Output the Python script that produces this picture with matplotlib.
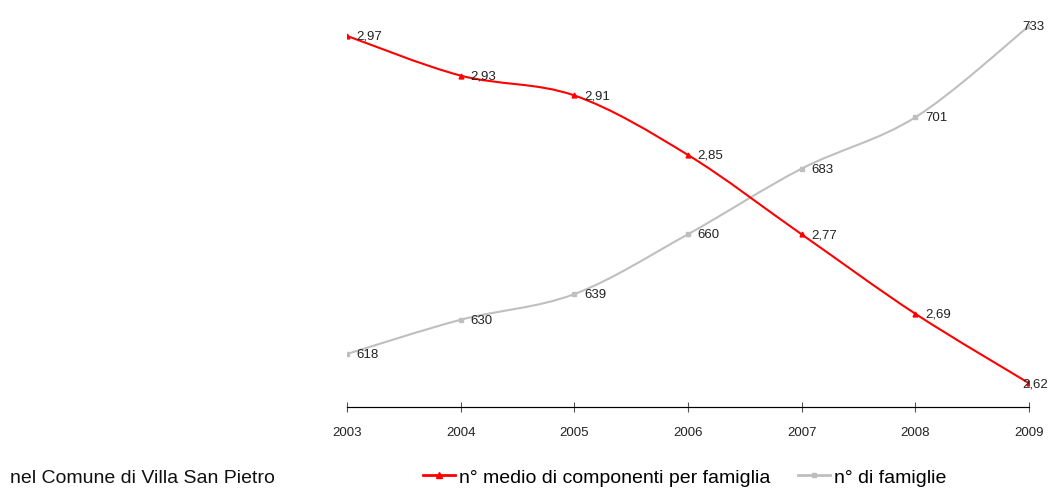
import numpy as np
import matplotlib
matplotlib.use("Agg")
import matplotlib.pyplot as plt
from matplotlib.path import Path
from matplotlib.patches import PathPatch
from matplotlib.lines import Line2D

plt.rcParams['font.family'] = ['Liberation Sans', 'DejaVu Sans']

years = [2003, 2004, 2005, 2006, 2007, 2008, 2009]
componenti = [2.97, 2.93, 2.91, 2.85, 2.77, 2.69, 2.62]
famiglie = [618, 630, 639, 660, 683, 701, 733]
labels_comp = ["2,97", "2,93", "2,91", "2,85", "2,77", "2,69", "2,62"]
labels_fam = ["618", "630", "639", "660", "683", "701", "733"]

RED = "#ff0000"
GRAY = "#bfbfbf"


def smooth_path(x, y):
    # excel-like smoothed line: cubic bezier through the points
    x = np.asarray(x, float)
    y = np.asarray(y, float)
    verts = [(x[0], y[0])]
    codes = [Path.MOVETO]
    n = len(x)
    for i in range(n - 1):
        p0 = (x[max(i - 1, 0)], y[max(i - 1, 0)])
        p1 = (x[i], y[i])
        p2 = (x[i + 1], y[i + 1])
        p3 = (x[min(i + 2, n - 1)], y[min(i + 2, n - 1)])
        c1 = (p1[0] + (p2[0] - p0[0]) / 6, p1[1] + (p2[1] - p0[1]) / 6)
        c2 = (p2[0] - (p3[0] - p1[0]) / 6, p2[1] - (p3[1] - p1[1]) / 6)
        verts += [c1, c2, p2]
        codes += [Path.CURVE4] * 3
    return Path(verts, codes)


fig = plt.figure(figsize=(10.5, 4.89), dpi=100)
ax = fig.add_axes([0.3305, 0.1656, 0.6495, 0.7934])
ax2 = ax.twinx()

ax.set_xlim(2003, 2009)
ax.set_ylim(599.4, 735.45)
ax2.set_ylim(2.596, 2.987)

ax.add_patch(PathPatch(smooth_path(years, famiglie), fill=False, ec=GRAY, lw=1.5))
ax.plot(years, famiglie, ls="none", marker="s", ms=2.5, color=GRAY)
ax2.add_patch(PathPatch(smooth_path(years, componenti), fill=False, ec=RED, lw=1.5))
ax2.plot(years, componenti, ls="none", marker="^", ms=3.5, color=RED)

for i, (x, v, t) in enumerate(zip(years, famiglie, labels_fam)):
    dx = -5 if i == len(years) - 1 else 7
    ax.annotate(t, (x, v), xytext=(dx, 0), textcoords="offset points",
                ha="left", va="center", fontsize=9.5, color="#222222")
for i, (x, v, t) in enumerate(zip(years, componenti, labels_comp)):
    dx = -5 if i == len(years) - 1 else 7
    ax2.annotate(t, (x, v), xytext=(dx, 0), textcoords="offset points",
                 ha="left", va="center", fontsize=9.5, color="#222222")

for a in (ax, ax2):
    for s in ("top", "right", "left"):
        a.spines[s].set_visible(False)
    a.set_yticks([])
ax.spines["bottom"].set_color("#555555")
ax.set_xticks(years)
ax.tick_params(axis="x", direction="inout", length=7, color="#555555",
               labelsize=9.5, pad=10, labelcolor="#222222")

handles = [
    Line2D([], [], color=RED, lw=2, marker="^", ms=4),
    Line2D([], [], color=GRAY, lw=2, marker="s", ms=3),
]
fig.legend(handles, ["n° medio di componenti per famiglia", "n° di famiglie"],
           loc="center", bbox_to_anchor=(0.652, 0.022), ncol=2, frameon=False,
           fontsize=14, handlelength=1.65, handletextpad=0.2, columnspacing=1.4)
fig.text(0.0095, 0.022, "nel Comune di Villa San Pietro", ha="left", va="center",
         fontsize=14, color="#111111")

fig.savefig("out.png", dpi=100, facecolor="white")
